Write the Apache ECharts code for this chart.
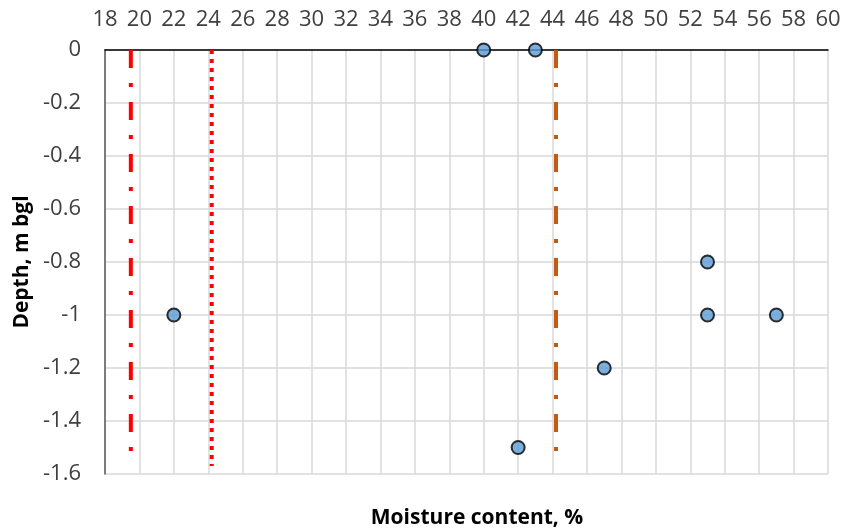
<!DOCTYPE html>
<html>
<head>
    <meta charset="utf-8">
    <title>Moisture content</title>
    <script src="https://cdn.jsdelivr.net/npm/echarts@6/dist/echarts.min.js"></script>
    <style>
        html, body { margin: 0; padding: 0; background: #fff; }
        #charts { width: 845px; height: 532px; }
    </style>
</head>
<body>
<div id="charts"></div>
<script>
    // measured points: moisture %, depth m
    var moisture = [40, 43, 22, 53, 53, 57, 47, 42];
    var depth = [0, 0, -1, -0.8, -1, -1, -1.2, -1.5];

    // vertical reference lines (x position, top depth, bottom depth)
    var plasticLimitX = 19.5;
    var shrinkLimitX = 24.2;
    var liquidLimitX = 44.2;
    var lineDepths = [0, -1.57];

    var font = 'Open Sans';

    function vline(x) {
        return lineDepths.map(function (d) { return [x, d]; });
    }

    var points = moisture.map(function (m, i) { return [m, depth[i]]; });

    var myChart = echarts.init(document.getElementById('charts'));

    var option = {
        animation: false,
        title: {
            text: 'Moisture content, %',
            left: 472,
            top: 503,
            textAlign: 'center',
            textStyle: { fontFamily: font, fontSize: 21, fontWeight: 'bold', color: '#000' }
        },
        grid: { left: 105, right: 17, top: 50, bottom: 58 },
        xAxis: {
            type: 'value',
            position: 'top',
            min: 18,
            max: 60,
            interval: 2,
            axisLine: { show: true, onZero: false, lineStyle: { color: '#000', width: 1.5 } },
            axisTick: { show: false },
            axisLabel: { margin: 19, fontFamily: font, fontSize: 22, color: '#404040' },
            splitLine: { show: true, lineStyle: { color: '#d9d9d9', width: 1.5 } }
        },
        yAxis: {
            type: 'value',
            min: -1.6,
            max: 0,
            interval: 0.2,
            name: 'Depth, m bgl',
            nameLocation: 'middle',
            nameGap: 72,
            nameTextStyle: { fontFamily: font, fontSize: 21, fontWeight: 'bold', color: '#000' },
            axisLine: { show: true, onZero: false, lineStyle: { color: '#595959', width: 1.5 } },
            axisTick: { show: false },
            axisLabel: { margin: 24, fontFamily: font, fontSize: 22, color: '#404040' },
            splitLine: { show: true, lineStyle: { color: '#d9d9d9', width: 1.5 } }
        },
        series: [
            {
                type: 'line',
                data: vline(plasticLimitX),
                symbol: 'none',
                lineStyle: { color: '#ff0000', width: 4, type: [18, 15, 4, 15], cap: 'butt' },
                z: 3
            },
            {
                type: 'line',
                data: vline(shrinkLimitX),
                symbol: 'none',
                lineStyle: { color: '#ff0000', width: 4, type: [4, 5], cap: 'butt' },
                z: 3
            },
            {
                type: 'line',
                data: vline(liquidLimitX),
                symbol: 'none',
                lineStyle: { color: '#c55a11', width: 4, type: [18, 15, 4, 15], cap: 'butt' },
                z: 3
            },
            {
                type: 'scatter',
                data: points,
                symbol: 'circle',
                symbolSize: 13,
                itemStyle: { color: '#5b9bd5', borderColor: '#000', borderWidth: 2 },
                z: 5
            }
        ]
    };
    myChart.setOption(option);
</script>
</body>
</html>
